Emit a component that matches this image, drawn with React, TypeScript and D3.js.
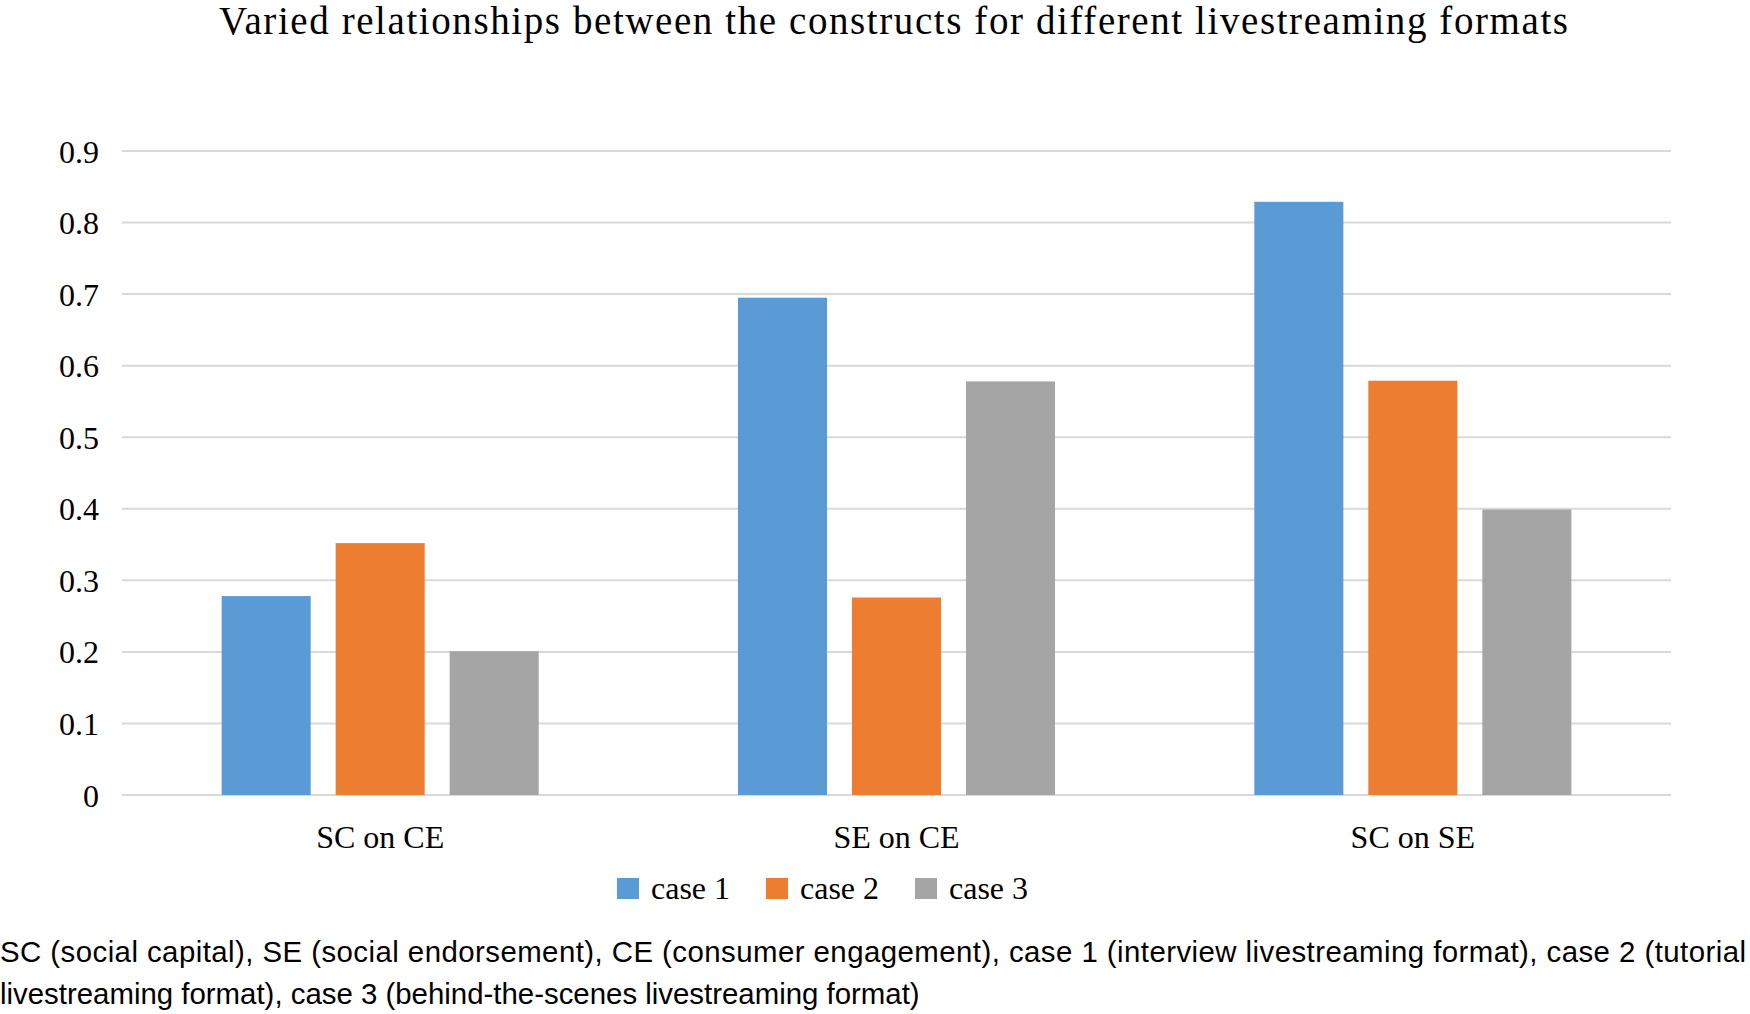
import React from 'react';
import * as d3 from 'd3';

const categories = ['SC on CE', 'SE on CE', 'SC on SE'];
const seriesNames = ['case 1', 'case 2', 'case 3'];
const case1 = [0.278, 0.695, 0.829];
const case2 = [0.352, 0.276, 0.579];
const case3 = [0.201, 0.578, 0.399];
const yTicks = [0, 0.1, 0.2, 0.3, 0.4, 0.5, 0.6, 0.7, 0.8, 0.9];
const colors = ['#5B9BD5', '#ED7D31', '#A5A5A5'];

const title = 'Varied relationships between the constructs for different livestreaming formats';
const note1 =
  'SC (social capital), SE (social endorsement), CE (consumer engagement), case 1 (interview livestreaming format), case 2 (tutorial';
const note2 = 'livestreaming format), case 3 (behind-the-scenes livestreaming format)';

const W = 1750;
const H = 1014;
const serif = '"Liberation Serif", "Times New Roman", serif';
const sans = '"Liberation Sans", Arial, sans-serif';

export default function App() {
  const values = [case1, case2, case3];

  const x0 = d3.scaleBand<string>().domain(categories).range([122, 1671]);
  const x1 = d3
    .scaleBand<string>()
    .domain(seriesNames)
    .range([0, x0.bandwidth()])
    .paddingInner(0.219)
    .paddingOuter(0.874);
  const y = d3.scaleLinear().domain([0, 0.9]).range([795, 151]);

  // legend layout
  const legendX = d3.scalePoint<string>().domain(seriesNames).range([617, 915]);

  return (
    <svg width={W} height={H} style={{ position: 'absolute', left: 0, top: 0, background: '#fff' }}>
      <text x={219} y={34} fontFamily={serif} fontSize={39} textLength={1349} lengthAdjust="spacing" fill="#000">
        {title}
      </text>

      {/* gridlines */}
      {yTicks.map((t) => (
        <line key={t} x1={122} x2={1671} y1={y(t)} y2={y(t)} stroke="#D9D9D9" strokeWidth={2} />
      ))}
      {yTicks.map((t) => (
        <text
          key={'l' + t}
          x={99}
          y={y(t)}
          dy="0.36em"
          textAnchor="end"
          fontFamily={serif}
          fontSize={32}
          fill="#000"
        >
          {t === 0 ? '0' : d3.format('.1f')(t)}
        </text>
      ))}

      {/* bars */}
      {categories.map((c, ci) => (
        <g key={c} transform={`translate(${x0(c)},0)`}>
          {seriesNames.map((s, si) => (
            <rect
              key={s}
              x={x1(s)}
              y={y(values[si][ci])}
              width={x1.bandwidth()}
              height={y(0) - y(values[si][ci])}
              fill={colors[si]}
            />
          ))}
        </g>
      ))}

      {categories.map((c) => (
        <text
          key={'c' + c}
          x={(x0(c) ?? 0) + x0.bandwidth() / 2}
          y={848}
          textAnchor="middle"
          fontFamily={serif}
          fontSize={32}
          fill="#000"
        >
          {c}
        </text>
      ))}

      {/* legend */}
      {seriesNames.map((s, si) => (
        <g key={'lg' + s} transform={`translate(${legendX(s)},0)`}>
          <rect x={0} y={878} width={22} height={21} fill={colors[si]} />
          <text x={34} y={899} fontFamily={serif} fontSize={32} fill="#000">
            {s}
          </text>
        </g>
      ))}

      {/* footnote */}
      <text x={0} y={962} fontFamily={sans} fontSize={29.4} textLength={1746} lengthAdjust="spacing" fill="#000">
        {note1}
      </text>
      <text x={0} y={1004} fontFamily={sans} fontSize={29.4} fill="#000">
        {note2}
      </text>
    </svg>
  );
}
